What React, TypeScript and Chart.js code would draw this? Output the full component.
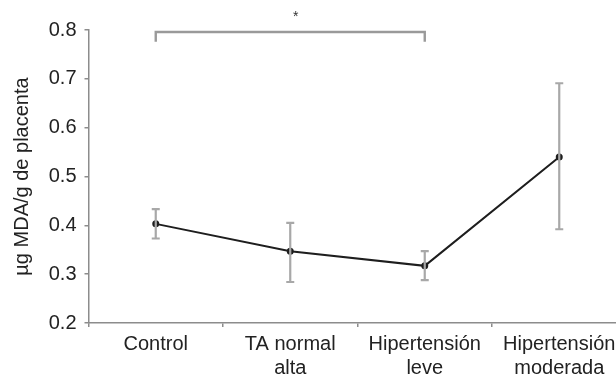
import React, { useEffect, useRef } from "react";
import { Chart, registerables } from "chart.js";

Chart.register(...registerables);

const categories: (string | string[])[] = [
  "Control",
  ["TA normal", "alta"],
  ["Hipertensión", "leve"],
  ["Hipertensión", "moderada"],
];
const means = [0.403, 0.347, 0.317, 0.54];
const upper = [0.433, 0.405, 0.347, 0.691];
const lower = [0.373, 0.284, 0.288, 0.392];
const yTicks = [0.2, 0.3, 0.4, 0.5, 0.6, 0.7, 0.8];
const yTitle = "µg MDA/g de placenta";
// significance bracket: from category index, to category index, top value, leg end value
const bracketFrom = 0;
const bracketTo = 2;
const bracketTop = 0.796;
const bracketLeg = 0.776;
const starLabel = "*";
const starX = 1.04;
const starY = 0.826;

const FONT = "'Liberation Sans', Arial, Helvetica, sans-serif";

const overlayPlugin = {
  id: "overlay",
  afterDatasetsDraw(chart: any) {
    const ctx = chart.ctx;
    const xs = chart.scales.x;
    const ys = chart.scales.y;
    ctx.save();
    // error bars
    ctx.strokeStyle = "#a8a8a8";
    ctx.lineWidth = 2.2;
    for (let i = 0; i < means.length; i++) {
      const x = xs.getPixelForValue(i);
      const yT = ys.getPixelForValue(upper[i]);
      const yB = ys.getPixelForValue(lower[i]);
      ctx.beginPath();
      ctx.moveTo(x, yT);
      ctx.lineTo(x, yB);
      ctx.moveTo(x - 4, yT);
      ctx.lineTo(x + 4, yT);
      ctx.moveTo(x - 4, yB);
      ctx.lineTo(x + 4, yB);
      ctx.stroke();
    }
    ctx.restore();
  },
  afterDraw(chart: any) {
    const ctx = chart.ctx;
    const xs = chart.scales.x;
    const ys = chart.scales.y;
    ctx.save();
    ctx.strokeStyle = "#9a9a9a";
    ctx.lineWidth = 2.4;
    const x1 = xs.getPixelForValue(bracketFrom);
    const x2 = xs.getPixelForValue(bracketTo);
    const yt = ys.getPixelForValue(bracketTop);
    const yl = ys.getPixelForValue(bracketLeg);
    ctx.beginPath();
    ctx.moveTo(x1, yl);
    ctx.lineTo(x1, yt);
    ctx.lineTo(x2, yt);
    ctx.lineTo(x2, yl);
    ctx.stroke();
    ctx.fillStyle = "#333";
    ctx.font = `14px ${FONT}`;
    ctx.textAlign = "center";
    ctx.textBaseline = "middle";
    ctx.fillText(starLabel, xs.getPixelForValue(starX), ys.getPixelForValue(starY));
    ctx.restore();
  },
};

export default function App() {
  const ref = useRef<HTMLCanvasElement | null>(null);
  useEffect(() => {
    if (!ref.current) return;
    const chart = new Chart(ref.current, {
      type: "line",
      data: {
        labels: categories as any,
        datasets: [
          {
            data: means,
            borderColor: "#1e1e1e",
            borderWidth: 2,
            pointRadius: 2.5,
            pointBackgroundColor: "#1e1e1e",
            pointBorderColor: "#1e1e1e",
            tension: 0,
          },
        ],
      },
      options: {
        responsive: false,
        animation: false,
        devicePixelRatio: 1,
        layout: { padding: { top: 30, right: 13.5, left: 0, bottom: 0 } },
        plugins: { legend: { display: false }, tooltip: { enabled: false } },
        scales: {
          x: {
            type: "category",
            offset: true,
            grid: {
              offset: true,
              drawOnChartArea: false,
              drawTicks: true,
              tickLength: 4,
              color: "#8c8c8c",
              lineWidth: 1.5,
            },
            border: { display: true, color: "#8c8c8c", width: 1.5 },
            ticks: {
              color: "#222",
              font: { family: FONT, size: 20, lineHeight: 1.2 },
              padding: 5,
              maxRotation: 0,
              autoSkip: false,
            },
            afterFit(scale: any) {
              scale.height = 57;
            },
          },
          y: {
            min: 0.2,
            max: 0.8,
            afterBuildTicks(scale: any) {
              scale.ticks = yTicks.map((v) => ({ value: v }));
            },
            grid: {
              drawOnChartArea: false,
              drawTicks: true,
              tickLength: 4,
              color: "#8c8c8c",
              lineWidth: 1.5,
            },
            border: { display: true, color: "#8c8c8c", width: 1.5 },
            ticks: {
              color: "#222",
              font: { family: FONT, size: 20 },
              padding: 8,
              callback: (v: any) => Number(v).toFixed(1),
            },
            title: {
              display: true,
              text: yTitle,
              color: "#222",
              font: { family: FONT, size: 20, lineHeight: 1.2 },
              padding: { top: 10, bottom: 0 },
            },
            afterFit(scale: any) {
              scale.width = 88.5;
            },
          },
        },
      },
      plugins: [overlayPlugin],
    } as any);
    return () => chart.destroy();
  }, []);
  return (
    <div
      style={{
        position: "fixed",
        left: 0,
        top: 0,
        width: 616,
        height: 380,
        overflow: "hidden",
        background: "#fff",
      }}
    >
      <canvas ref={ref} width={640} height={380} style={{ display: "block" }} />
    </div>
  );
}
